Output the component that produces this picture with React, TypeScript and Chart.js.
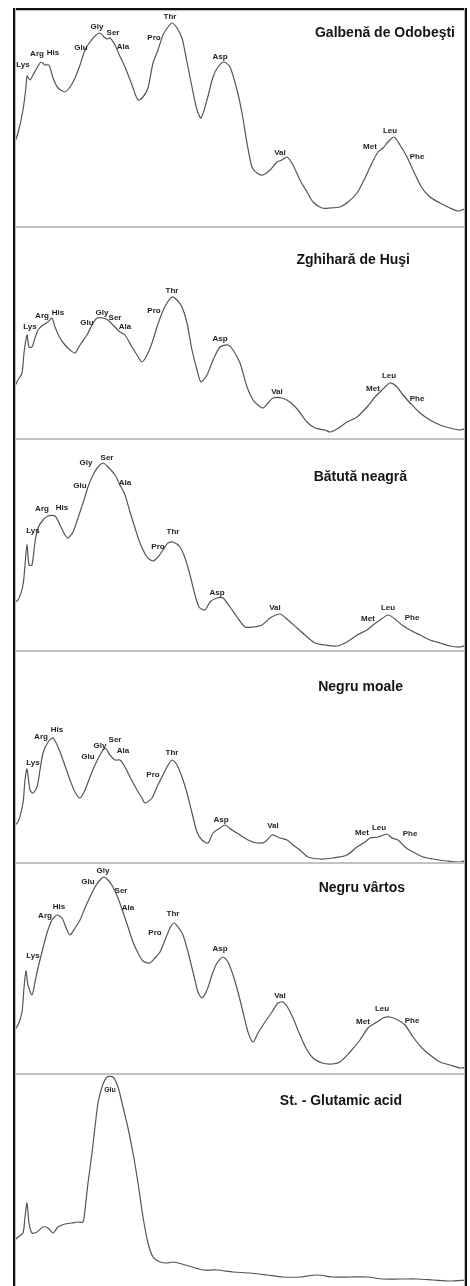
import React, { useEffect, useRef } from "react";
import { Chart, registerables } from "chart.js";

Chart.register(...registerables);

// ---------- DATA ----------
const sampleNames = [
  "Galbenă de Odobeşti",
  "Zghihară de Huşi",
  "Bătută neagră",
  "Negru moale",
  "Negru vârtos",
  "St. - Glutamic acid",
];

const aminoAcids = ["Lys", "Arg", "His", "Glu", "Gly", "Ser", "Ala", "Pro", "Thr", "Asp", "Val", "Met", "Leu", "Phe"];

// Panel 1 – Galbenă de Odobeşti
const galbenaTime = [0,5,10,13,14,17,20,24,28,32,36,40,45,52,57,62,67,72,77,82,87,91,94,97,102,105,112,119,125,130,135,140,145,150,155,159,164,169,174,179,184,188,194,200,205,211,217,224,229,234,239,244,250,257,264,269,274,280,287,294,300,309,317,327,335,344,352,359,365,370,375,381,387,394,400,409,417,427,437,445,454];
const galbenaIntensity = [81,95,118,141,152,148,153,160,166,163,163,150,140,136,141,150,163,178,186,192,195,191,189,190,183,176,161,143,128,131,140,165,178,193,201,205,200,190,166,141,118,110,128,151,161,166,161,138,115,85,61,55,53,58,66,68,71,63,48,36,26,20,20,21,26,35,50,65,76,80,86,91,83,71,58,40,31,25,20,17,20];
const galbenaLabelTime = [10,24,40,68,84,100,110,141,157,207,267,357,377,404];
const galbenaLabelIntensity = [163,174,175,180,201,195,181,190,211,171,75,81,97,71];

// Panel 2 – Zghihară de Huşi
const zghiharaTime = [0,5,9,11,14,16,19,22,25,30,35,39,42,47,52,57,62,67,74,79,84,90,95,100,107,112,119,124,129,134,139,144,149,154,159,164,169,174,179,184,188,194,200,207,215,220,227,234,240,245,250,255,260,269,277,285,294,302,312,317,324,334,344,354,362,369,377,384,390,399,407,417,427,437,447,454];
const zghiharaIntensity = [50,60,67,87,105,93,93,102,110,115,118,122,113,102,95,90,87,95,105,115,122,122,120,115,108,105,93,85,78,85,97,113,127,137,143,140,133,117,90,70,58,65,80,93,95,90,77,53,40,35,32,37,42,42,38,30,18,12,10,8,11,18,23,33,43,50,57,53,45,35,27,20,15,12,10,12];
const zghiharaLabelTime = [17,29,45,74,89,102,112,141,159,207,264,360,376,404];
const zghiharaLabelIntensity = [113,124,127,117,127,122,113,129,149,101,48,51,64,41];

// Panel 3 – Bătută neagră
const batutaTime = [0,5,10,12,14,16,19,22,25,30,35,42,47,52,55,60,65,70,75,80,85,90,95,102,107,112,117,122,127,134,140,145,150,155,160,167,172,177,182,186,192,197,204,210,217,224,232,240,249,257,267,275,284,292,302,312,324,334,344,354,360,367,375,382,389,397,407,417,427,437,447,454];
const batutaIntensity = [49,52,67,87,108,87,87,110,124,132,136,136,127,117,114,120,134,149,165,177,185,189,185,177,167,157,140,124,109,95,91,95,102,109,110,105,94,77,57,45,42,50,54,54,45,35,25,25,27,34,38,32,24,17,9,7,6,10,17,22,27,32,37,33,27,22,17,12,9,6,5,7];
const batutaLabelTime = [20,29,49,67,73,94,112,145,160,204,262,355,375,399];
const batutaLabelIntensity = [121,143,144,166,189,194,169,105,120,59,44,33,44,34];

// Panel 4 – Negru moale
const moaleTime = [0,5,10,12,14,17,20,24,27,30,35,40,45,50,57,62,67,72,77,82,87,92,97,102,107,112,117,124,129,132,139,144,149,154,159,164,169,174,179,184,189,195,200,207,212,219,227,235,244,252,259,267,274,280,287,295,307,320,334,344,352,357,365,374,379,385,392,400,410,420,434,447,454];
const moaleIntensity = [37,42,61,84,95,74,71,77,94,111,122,126,117,104,84,72,66,74,87,99,109,116,109,104,104,97,87,74,66,61,66,77,87,97,104,99,87,71,51,32,24,21,31,36,39,34,29,24,21,22,29,26,24,19,14,7,5,6,9,17,22,26,27,30,26,24,17,12,7,5,3,2,4];
const moaleLabelTime = [20,28,44,75,87,102,110,140,159,208,260,349,366,397];
const moaleLabelIntensity = [101,127,134,107,118,124,113,89,111,44,38,31,36,30];

// Panel 5 – Negru vârtos
const vartosTime = [0,5,9,11,13,15,19,22,25,29,34,39,44,49,54,57,62,67,72,77,82,87,91,95,100,105,110,115,120,125,130,137,142,147,152,157,161,165,170,175,180,185,189,194,199,204,210,215,220,225,230,235,240,245,252,259,265,270,275,280,287,294,300,309,319,327,337,347,355,364,370,377,385,392,400,409,417,427,437,447,454];
const vartosIntensity = [43,50,63,87,104,90,80,93,107,123,142,155,160,157,145,140,147,155,167,178,188,195,198,195,188,177,163,148,133,122,114,112,117,123,135,147,152,148,140,123,103,83,77,85,100,112,118,113,100,83,63,43,33,42,53,63,72,73,67,57,40,25,17,12,11,13,23,35,47,53,57,58,55,50,38,27,20,13,10,7,8];
const vartosLabelTime = [20,32,46,75,90,108,115,142,160,207,267,350,369,399];
const vartosLabelIntensity = [119,159,168,193,204,184,167,142,161,126,79,53,66,54];

// Panel 6 – St. - Glutamic acid
const standardTime = [0,5,10,12,14,16,19,24,30,35,40,45,52,59,65,70,72,75,79,82,85,89,94,100,105,110,115,120,125,130,135,140,147,154,160,169,179,190,204,220,237,254,270,287,304,320,337,354,370,387,404,420,437,454];
const standardIntensity = [44,49,53,69,83,63,53,54,59,58,53,59,62,63,64,64,76,103,133,159,183,199,209,209,199,179,158,133,103,69,43,29,24,23,24,22,19,16,16,14,13,11,9,9,11,9,9,9,7,7,7,6,5,6];
const standardLabels = ["Glu"];
const standardLabelTime = [97];
const standardLabelIntensity = [196];

const panelTimes = [galbenaTime, zghiharaTime, batutaTime, moaleTime, vartosTime, standardTime];
const panelIntensities = [galbenaIntensity, zghiharaIntensity, batutaIntensity, moaleIntensity, vartosIntensity, standardIntensity];
const panelLabelNames = [aminoAcids, aminoAcids, aminoAcids, aminoAcids, aminoAcids, standardLabels];
const panelLabelTimes = [galbenaLabelTime, zghiharaLabelTime, batutaLabelTime, moaleLabelTime, vartosLabelTime, standardLabelTime];
const panelLabelIntensities = [galbenaLabelIntensity, zghiharaLabelIntensity, batutaLabelIntensity, moaleLabelIntensity, vartosLabelIntensity, standardLabelIntensity];

// ---------- LAYOUT ----------
const PANEL_W = 454;
const PANEL_H = [220, 212, 212, 212, 211, 211];
const TITLE_POS = [
  [442, 25],
  [397, 32],
  [394, 37],
  [390, 35],
  [392, 24],
  [389, 26],
];
const FONT = '"Liberation Sans", Arial, sans-serif';

function Panel({ index }: { index: number }) {
  const ref = useRef<HTMLCanvasElement | null>(null);
  useEffect(() => {
    const canvas = ref.current;
    if (!canvas) return;
    const H = PANEL_H[index];
    const times = panelTimes[index];
    const vals = panelIntensities[index];
    const decor = {
      id: "decor" + index,
      afterDatasetsDraw(chart: any) {
        const ctx = chart.ctx;
        const xs = chart.scales.x;
        const ys = chart.scales.y;
        ctx.save();
        // peak labels
        ctx.fillStyle = "#1e1e1e";
        ctx.textAlign = "center";
        ctx.textBaseline = "middle";
        ctx.font = (index === 5 ? "bold 7px " : "bold 8px ") + FONT;
        const names = panelLabelNames[index];
        const lt = panelLabelTimes[index];
        const li = panelLabelIntensities[index];
        names.forEach((n, i) => {
          ctx.fillText(n, xs.getPixelForValue(lt[i]), ys.getPixelForValue(li[i]));
        });
        // title
        ctx.font = "bold 14px " + FONT;
        ctx.textAlign = "right";
        ctx.fillStyle = "#151515";
        ctx.fillText(sampleNames[index], TITLE_POS[index][0], TITLE_POS[index][1]);
        // frame
        const W = chart.width;
        if (index < 5) {
          ctx.fillStyle = "#c2c2c2";
          ctx.fillRect(0, H - 2, W, 2);
        }
        if (index === 0) {
          ctx.fillStyle = "#111";
          ctx.fillRect(0, 0, W, 2);
          ctx.fillStyle = "#bdbdbd";
          ctx.fillRect(2, 2, W - 4, 1);
        }
        ctx.fillStyle = "#111";
        ctx.fillRect(0, 0, 2, H);
        ctx.fillRect(W - 2, 0, 2, H);
        ctx.fillStyle = "#bdbdbd";
        ctx.fillRect(2, 0, 1, H);
        ctx.fillRect(W - 3, 0, 1, H);
        ctx.restore();
      },
    };
    const chart = new Chart(canvas, {
      type: "line",
      data: {
        datasets: [
          {
            data: times.map((t, i) => ({ x: t, y: vals[i] })),
            borderColor: "#555555",
            borderWidth: 1.2,
            pointRadius: 0,
            tension: 0.25,
            fill: false,
          },
        ],
      },
      options: {
        animation: false,
        responsive: false,
        events: [],
        layout: { padding: 0 },
        plugins: { legend: { display: false }, tooltip: { enabled: false }, title: { display: false } },
        scales: {
          x: { type: "linear", min: 0, max: PANEL_W, display: false },
          y: { type: "linear", min: 0, max: H, display: false },
        },
      },
      plugins: [decor],
    } as any);
    return () => chart.destroy();
  }, [index]);
  return (
    <canvas
      ref={ref}
      width={PANEL_W}
      height={PANEL_H[index]}
      style={{ display: "block", width: PANEL_W, height: PANEL_H[index] }}
    />
  );
}

export default function App() {
  useEffect(() => {
    document.documentElement.style.overflow = "hidden";
    document.body.style.margin = "0px";
  }, []);
  return (
    <div
      style={{
        position: "fixed",
        left: 13,
        top: 8,
        width: PANEL_W,
        height: 1278,
        background: "#fff",
      }}
    >
      {PANEL_H.map((_, i) => (
        <Panel key={i} index={i} />
      ))}
    </div>
  );
}
